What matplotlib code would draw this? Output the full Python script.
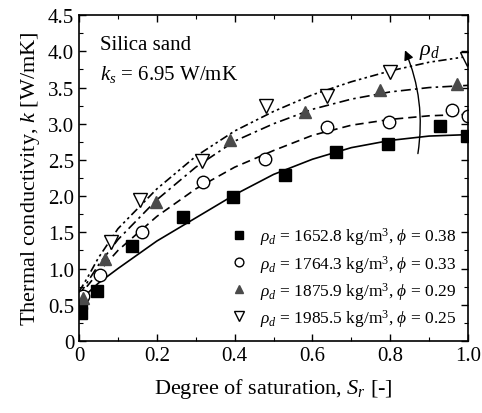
import numpy as np
import matplotlib
matplotlib.use("Agg")
import matplotlib.pyplot as plt
from matplotlib.ticker import MultipleLocator

plt.rcParams['font.family'] = ['Liberation Serif', 'DejaVu Serif']
plt.rcParams['mathtext.fontset'] = 'custom'
plt.rcParams['mathtext.rm'] = 'Liberation Serif'
plt.rcParams['mathtext.it'] = 'Liberation Serif:italic'

# ---------------------------------------------------------------------------
# Measured data (degree of saturation, thermal conductivity)
# ---------------------------------------------------------------------------
sr_1652 = [0.005, 0.005, 0.046, 0.136, 0.267, 0.396, 0.53, 0.66, 0.795, 0.928, 0.997]
k_1652 = [0.38, 0.52, 0.69, 1.31, 1.71, 1.99, 2.29, 2.61, 2.72, 2.97, 2.83]

sr_1764 = [0.01, 0.054, 0.162, 0.319, 0.478, 0.637, 0.797, 0.958, 1.0]
k_1764 = [0.62, 0.91, 1.50, 2.19, 2.51, 2.95, 3.02, 3.19, 3.11]

sr_1876 = [0.01, 0.067, 0.198, 0.388, 0.581, 0.774, 0.972]
k_1876 = [0.60, 1.13, 1.92, 2.77, 3.16, 3.47, 3.55]

sr_1986 = [0.082, 0.157, 0.316, 0.48, 0.637, 0.80, 0.997]
k_1986 = [1.37, 1.95, 2.49, 3.25, 3.38, 3.71, 3.90]

# Model curves
sr_fit = [0.0, 0.02, 0.05, 0.1, 0.2, 0.3, 0.4, 0.5, 0.6, 0.7, 0.8, 0.9, 1.0]
fit_1652 = [0.55, 0.65, 0.80, 1.00, 1.38, 1.70, 2.02, 2.30, 2.51, 2.67, 2.77, 2.83, 2.85]
fit_1764 = [0.60, 0.75, 0.95, 1.25, 1.72, 2.10, 2.40, 2.63, 2.84, 2.98, 3.06, 3.11, 3.13]
fit_1876 = [0.63, 0.80, 1.05, 1.40, 1.95, 2.40, 2.76, 3.00, 3.20, 3.34, 3.44, 3.50, 3.53]
fit_1986 = [0.68, 0.86, 1.15, 1.55, 2.10, 2.55, 2.90, 3.17, 3.40, 3.58, 3.73, 3.85, 3.93]

labels = [
    r'$\rho_d$ = 1652.8 kg/m$^3$, $\phi$ = 0.38',
    r'$\rho_d$ = 1764.3 kg/m$^3$, $\phi$ = 0.33',
    r'$\rho_d$ = 1875.9 kg/m$^3$, $\phi$ = 0.29',
    r'$\rho_d$ = 1985.5 kg/m$^3$, $\phi$ = 0.25',
]
xticks = [0, 0.2, 0.4, 0.6, 0.8, 1.0]
xtick_labels = ['0', '0.2', '0.4', '0.6', '0.8', '1.0']
yticks = [0, 0.5, 1.0, 1.5, 2.0, 2.5, 3.0, 3.5, 4.0, 4.5]
ytick_labels = ['0', '0.5', '1.0', '1.5', '2.0', '2.5', '3.0', '3.5', '4.0', '4.5']

# ---------------------------------------------------------------------------
# Figure
# ---------------------------------------------------------------------------
fig = plt.figure(figsize=(4.82, 4.14), dpi=100)
ax = fig.add_axes([0.164, 0.174, 0.807, 0.787])

# fitted curves
ax.plot(sr_fit, fit_1652, '-', color='black', lw=1.2)
ax.plot(sr_fit, fit_1764, color='black', lw=1.2, dashes=(5, 3))
ax.plot(sr_fit, fit_1876, color='black', lw=1.2, dashes=(6, 2.5, 1.5, 2.5))
ax.plot(sr_fit, fit_1986, color='black', lw=1.2, dashes=(5, 2, 1.5, 2, 1.5, 2))

# measurements
ax.plot(sr_1652, k_1652, 's', color='black', ms=8, ls='none', label=labels[0])
ax.plot(sr_1764, k_1764, 'o', mfc='white', mec='black', mew=1.0, ms=9, ls='none', label=labels[1])
ax.plot(sr_1876, k_1876, '^', color='#4a4a4a', ms=9, ls='none', label=labels[2])
ax.plot(sr_1986, k_1986, 'v', mfc='white', mec='black', mew=1.0, ms=10, ls='none', label=labels[3])

ax.set_xticks(xticks)
ax.set_xticklabels(xtick_labels)
ax.set_yticks(yticks)
ax.set_yticklabels(ytick_labels)
ax.xaxis.set_minor_locator(MultipleLocator(0.1))
ax.yaxis.set_minor_locator(MultipleLocator(0.25))
ax.set_xlim(0, 1.0)
ax.set_ylim(0, 4.5)

ax.tick_params(which='both', direction='in', top=True, right=True, labelsize=15)
ax.tick_params(which='major', length=5, width=1)
ax.tick_params(which='minor', length=3, width=0.8)
for sp in ax.spines.values():
    sp.set_linewidth(1.2)

ax.set_xlabel(r'Degree of saturation, $S_r$ [-]', fontsize=16, labelpad=8)
ax.set_ylabel(r'Thermal conductivity, $k$ [W/mK]', fontsize=16, labelpad=4)

ax.text(0.055, 0.91, 'Silica sand', transform=ax.transAxes, fontsize=15, va='center')
ax.text(0.055, 0.82, r'$k_s$ = 6.95 W/mK', transform=ax.transAxes, fontsize=15, va='center')

# arrow showing increasing dry density
ax.annotate('', xy=(0.835, 4.05), xytext=(0.87, 2.55),
            arrowprops=dict(arrowstyle='-|>', color='black', lw=1.0,
                            mutation_scale=14,
                            connectionstyle='arc3,rad=0.15'))
ax.text(0.875, 4.0, r'$\rho_d$', fontsize=16, va='center')

ax.legend(loc='lower right', frameon=False, fontsize=12.5, handlelength=1.0,
          markerscale=0.7, handletextpad=0.7, labelspacing=0.3,
          borderaxespad=0.3, bbox_to_anchor=(1.0, 0.0))

fig.savefig('out.png', dpi=100)
